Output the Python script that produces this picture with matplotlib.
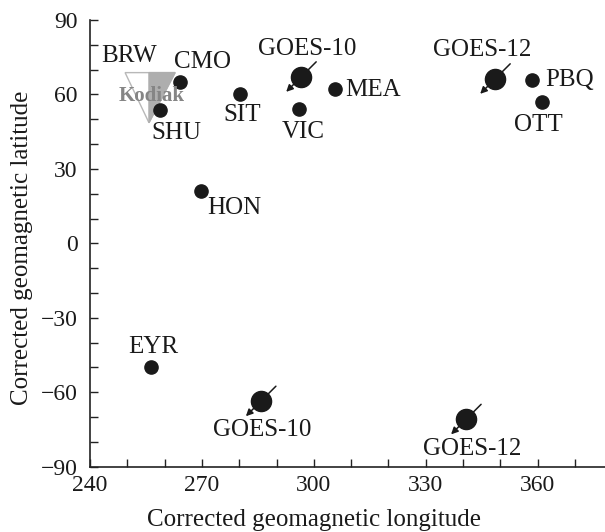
import matplotlib
matplotlib.use("Agg")
import matplotlib.pyplot as plt
from matplotlib.patches import Polygon
from matplotlib.transforms import offset_copy

# ground stations (corrected geomagnetic coords)
stations = ["CMO", "SHU", "SIT", "VIC", "MEA", "PBQ", "OTT", "HON", "EYR"]
st_lon = [264.1, 258.8, 280.2, 296.0, 305.7, 358.5, 361.2, 269.8, 256.4]
st_lat = [65.1, 53.8, 60.2, 54.2, 62.2, 65.9, 57.0, 21.1, -49.9]

# GOES footprints (north / south)
goes = ["GOES-10", "GOES-12", "GOES-10", "GOES-12"]
goes_lon = [296.6, 348.6, 285.8, 340.8]
goes_lat = [67.1, 66.3, -63.6, -70.9]

# Kodiak triangle (left, right, apex) and BRW label
kodiak_lon = [249.4, 262.8, 255.8]
kodiak_lat = [68.8, 68.8, 48.6]
brw_lon, brw_lat = 250.5, 75.4

# label offsets in points (dx, dy, ha)
st_off = {"CMO": (16, 14, "center"), "SHU": (11.5, -16.5, "center"),
          "SIT": (1.5, -15, "center"), "VIC": (3, -17, "center"),
          "MEA": (7, -0.7, "left"), "PBQ": (9.4, 0, "left"),
          "OTT": (-3, -16.5, "center"), "HON": (4.3, -12, "left"),
          "EYR": (1.5, 14.4, "center")}
goes_off = [(4.3, 20), (-9.4, 21), (0.7, -21), (4.3, -21.6)]

plt.rcParams["font.family"] = ["Liberation Serif", "DejaVu Serif"]

fig = plt.figure(figsize=(6.05, 5.32), dpi=100)
ax = fig.add_axes([0.1488, 0.1227, 0.851, 0.8397])

ink = "#1a1a1a"
fs = 18
tfs = 17

# Kodiak triangle: white left half, gray right half
ax.add_patch(Polygon(list(zip(kodiak_lon, kodiak_lat)), closed=True,
                     facecolor="white", edgecolor="#b8b8b8", lw=1.0, zorder=1))
ax.add_patch(Polygon([(kodiak_lon[2], kodiak_lat[0]), (kodiak_lon[1], kodiak_lat[1]),
                      (kodiak_lon[2], kodiak_lat[2])], closed=True,
                     facecolor="#aeaeae", edgecolor="#aeaeae", lw=1.0, zorder=1))

ax.plot(st_lon, st_lat, "o", color=ink, ms=9.5, zorder=3, ls="none")
ax.plot(goes_lon, goes_lat, "o", color=ink, ms=14.5, zorder=3, ls="none")

ax.text(256.4, 59.4, "Kodiak", color="#858585",
        fontsize=15, fontweight="bold", ha="center", va="center", zorder=4)
ax.text(brw_lon, brw_lat, "BRW", fontsize=fs, color=ink, ha="center", va="center")

for name, x, y in zip(stations, st_lon, st_lat):
    dx, dy, ha = st_off[name]
    ax.annotate(name, (x, y), xytext=(dx, dy), textcoords="offset points",
                fontsize=fs, color=ink, ha=ha, va="center")

for i, (name, x, y) in enumerate(zip(goes, goes_lon, goes_lat)):
    dx, dy = goes_off[i]
    ax.annotate(name, (x, y), xytext=(dx, dy), textcoords="offset points",
                fontsize=fs, color=ink, ha="center", va="center")
    # short arrow through the dot, pointing down-left
    tr = offset_copy(ax.transData, fig=fig, x=-10.8, y=-10.8, units="points")
    ax.annotate("", xy=(x, y), xycoords=tr, xytext=(21.6, 21.6),
                textcoords="offset points",
                arrowprops=dict(arrowstyle="-|>", color=ink, lw=1.1,
                                mutation_scale=10, shrinkA=0, shrinkB=0),
                zorder=4)

ax.set_xlim(240, 378)
ax.set_ylim(-90, 90)
ax.set_xticks([240, 270, 300, 330, 360])
ax.set_xticks(range(250, 380, 10), minor=True)
ax.set_yticks([-90, -60, -30, 0, 30, 60, 90])
ax.set_yticks(range(-80, 90, 10), minor=True)
ax.tick_params(which="both", direction="in", length=6, width=1, colors="#222222",
               labelcolor=ink, labelsize=tfs)
ax.tick_params(axis="y", pad=9)
ax.tick_params(axis="x", pad=6)
for s in ["top", "right"]:
    ax.spines[s].set_visible(False)
for s in ["left", "bottom"]:
    ax.spines[s].set_color("#222222")
    ax.spines[s].set_linewidth(1.2)

ax.set_xlabel("Corrected geomagnetic longitude", fontsize=18, color=ink)
ax.set_ylabel("Corrected geomagnetic latitude", fontsize=18, color=ink)
ax.xaxis.set_label_coords(0.435, -0.095)
ax.yaxis.set_label_coords(-0.111, 0.49)

fig.savefig("out.png", dpi=100)
